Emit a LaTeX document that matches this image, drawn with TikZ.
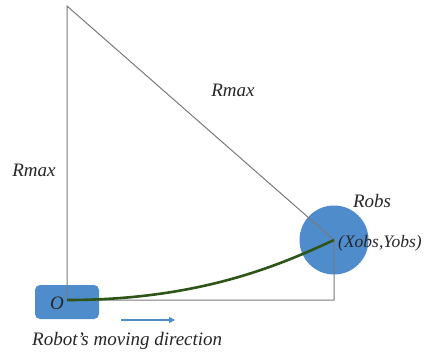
\documentclass[tikz,border=0pt]{standalone}
\usepackage{fontspec}
\setmainfont{Liberation Serif}
\usetikzlibrary{arrows.meta}
\definecolor{blu}{HTML}{4F8CCB}
\definecolor{lgray}{HTML}{7A7A7A}
\definecolor{dgreen}{HTML}{2F5418}
\begin{document}
\begin{tikzpicture}[x=1pt,y=-1pt,
  edge/.style={draw=lgray,line width=1pt},
  lbl/.style={font=\fontsize{19}{21}\selectfont\itshape,text=black!85,inner sep=0pt}]
\useasboundingbox (0,0) rectangle (427,359);
\coordinate (T) at (67,6);
\coordinate (O) at (67,300);
\coordinate (C) at (334,300);
\coordinate (P) at (334,240);
\node[draw=none,fill=blu,rounded corners=5pt,minimum width=64pt,minimum height=34pt,inner sep=0pt] (robot) at (67,302) {};
\node[circle,fill=blu,minimum size=69pt,inner sep=0pt] (obs) at (P) {};
\draw[edge] (O) -- (T) -- (P) -- (C) -- (O);
\draw[dgreen,line width=2.6pt] (O) .. controls (200,300) and (280,265) .. (P);
\node[lbl,anchor=center] (o) at (57,303) {O};
\node[lbl] (r1) at (34,170) {Rmax};
\node[lbl] (r2) at (233,90) {Rmax};
\node[lbl] (r3) at (372,201) {Robs};
\node[lbl,anchor=west,font=\fontsize{17.5}{20}\selectfont\itshape] (xy) at (338,243) {(Xobs,Yobs)};
\coordinate (a1) at (121,320);
\coordinate (a2) at (175,320);
\draw[blu,line width=2.2pt,-{Triangle[length=6pt,width=6pt]}] (a1) -- (a2);
\node[lbl,anchor=west] (mv) at (32,341) {Robot's moving direction};
\end{tikzpicture}
\end{document}
